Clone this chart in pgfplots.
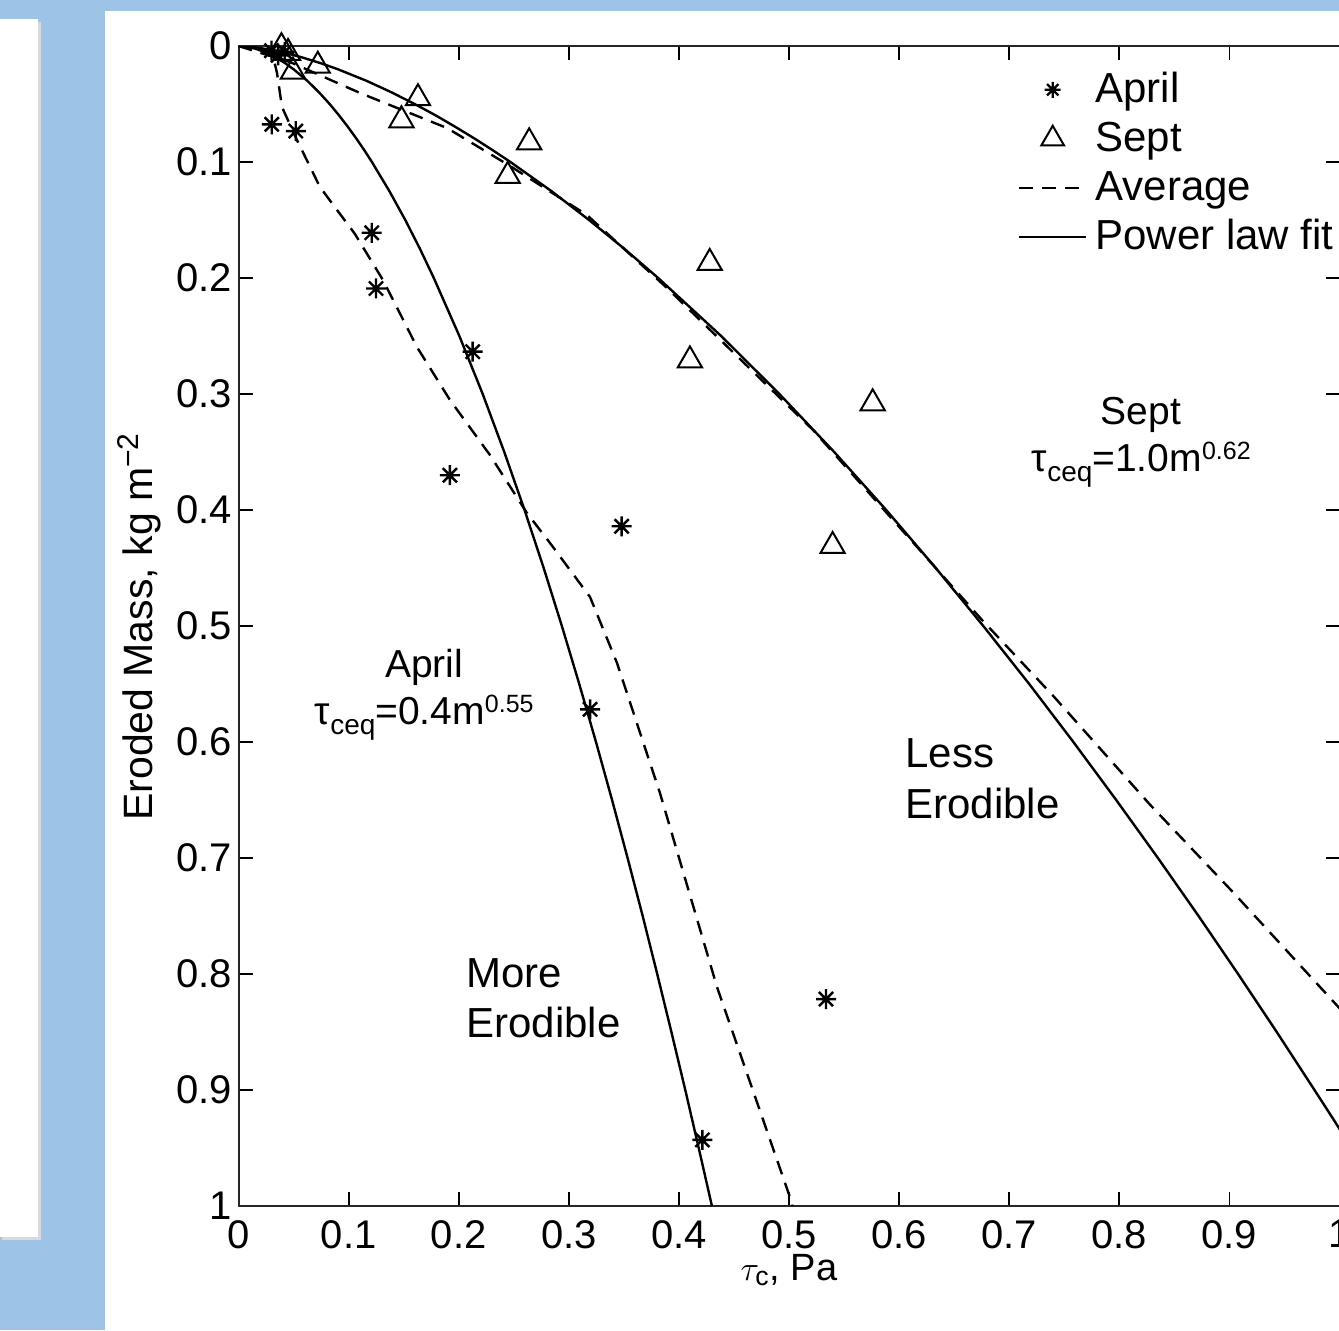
\documentclass[border=0pt]{standalone}
\usepackage{pgfplots}
\pgfplotsset{compat=1.18}
\usepackage{fontspec}
\setmainfont{Liberation Sans}
\definecolor{bgblue}{RGB}{157,195,230}

\pgfdeclareplotmark{matstar}{%
 \pgfpathmoveto{\pgfqpoint{-\pgfplotmarksize}{0pt}}\pgfpathlineto{\pgfqpoint{\pgfplotmarksize}{0pt}}%
 \pgfpathmoveto{\pgfqpoint{0pt}{-\pgfplotmarksize}}\pgfpathlineto{\pgfqpoint{0pt}{\pgfplotmarksize}}%
 \pgfpathmoveto{\pgfqpoint{-0.707\pgfplotmarksize}{-0.707\pgfplotmarksize}}\pgfpathlineto{\pgfqpoint{0.707\pgfplotmarksize}{0.707\pgfplotmarksize}}%
 \pgfpathmoveto{\pgfqpoint{-0.707\pgfplotmarksize}{0.707\pgfplotmarksize}}\pgfpathlineto{\pgfqpoint{0.707\pgfplotmarksize}{-0.707\pgfplotmarksize}}%
 \pgfusepathqstroke}

\pgfplotsset{
 legline/.style={legend image code/.code={\draw[##1] (0pt,0pt) -- (33.5pt,0pt);}},
 legmark/.style={legend image code/.code={\path[draw=none,fill=none] (0pt,-1pt) rectangle (33.5pt,1pt); \path[##1] plot coordinates {(16.75pt,0pt)};}},
}
\newcommand{\lsub}[1]{\raisebox{-5pt}{\fontsize{14}{14}\selectfont #1}}
\newcommand{\lsup}[1]{\raisebox{6pt}{\fontsize{12.5}{12.5}\selectfont #1}}

\pgfplotstableread{
x y
0.030 0.004
0.036 0.008
0.042 0.005
0.0302 0.0675
0.0520 0.0733
0.121 0.161
0.1249 0.209
0.2127 0.2635
0.192 0.370
0.348 0.414
0.3193 0.5718
0.5336 0.8216
0.4213 0.943
}\april
\pgfplotstableread{
x y
0.039 0.001
0.045 0.006
0.0495 0.022
0.072 0.017
0.163 0.045
0.148 0.064
0.264 0.083
0.2445 0.112
0.428 0.187
0.410 0.271
0.576 0.308
0.5396 0.431
}\sept
\pgfplotstableread{
x y
0 0
0.0304 0.0052
0.035 0.0233
0.0395 0.0526
0.0531 0.081
0.0740 0.1216
0.1058 0.1621
0.1312 0.2017
0.1621 0.2595
0.1921 0.3052
0.2284 0.3526
0.2620 0.4026
0.2829 0.4284
0.3193 0.475
0.3438 0.5319
0.3828 0.644
0.4346 0.8112
0.5027 0.9974
0.503 1.0
}\aprilavg
\pgfplotstableread{
x y
0 0
0.0468 0.0138
0.1104 0.0405
0.1894 0.0707
0.2466 0.1034
0.3165 0.1457
0.3892 0.2086
0.5218 0.331
0.6753 0.4948
0.7407 0.561
0.8279 0.654
0.9035 0.7297
0.9944 0.8237
1.02 0.85
}\septavg
\pgfplotstableread{
x y
0 0
0.0096 0.001
0.0141 0.002
0.0176 0.003
0.0233 0.005
0.0292 0.0075
0.0341 0.01
0.0427 0.015
0.0500 0.02
0.0625 0.03
0.0732 0.04
0.0828 0.05
0.0915 0.06
0.0996 0.07
0.1072 0.08
0.1144 0.09
0.1212 0.1
0.1370 0.125
0.1515 0.15
0.1649 0.175
0.1774 0.2
0.2006 0.25
0.2218 0.3
0.2414 0.35
0.2598 0.4
0.2772 0.45
0.2937 0.5
0.3095 0.55
0.3247 0.6
0.3393 0.65
0.3534 0.7
0.3671 0.75
0.3803 0.8
0.3932 0.85
0.4058 0.9
0.4180 0.95
0.4300 1.0
}\aprilfit
\pgfplotstableread{
x y
0 0
0.0138 0.001
0.0213 0.002
0.0275 0.003
0.0379 0.005
0.0488 0.0075
0.0584 0.01
0.0753 0.015
0.0902 0.02
0.1163 0.03
0.1392 0.04
0.1600 0.05
0.1795 0.06
0.1975 0.07
0.2148 0.08
0.2312 0.09
0.2470 0.1
0.2841 0.125
0.3184 0.15
0.3507 0.175
0.3812 0.2
0.4384 0.25
0.4913 0.3
0.5411 0.35
0.5883 0.4
0.6333 0.45
0.6765 0.5
0.7182 0.55
0.7583 0.6
0.7972 0.65
0.8351 0.7
0.8720 0.75
0.9079 0.8
0.9430 0.85
0.9773 0.9
0.9943 0.925
1.0110 0.95
}\septfit

\begin{document}
\begin{tikzpicture}
\begin{scope}[x=0.5pt,y=-0.5pt]
\fill[bgblue] (0,0) rectangle (1339,1330);
\fill[black!15] (2,22) rectangle (41,1240);
\fill[white] (0,19) rectangle (38,1237);
\fill[white] (105,11) rectangle (1339,1330);
\end{scope}
\begin{axis}[
 at={(119.25pt,-23pt)}, anchor=north west,
 width=550.5pt, height=580pt, scale only axis,
 xmin=0, xmax=1, ymin=0, ymax=1, y dir=reverse,
 xtick={0,0.1,0.2,0.3,0.4,0.5,0.6,0.7,0.8,0.9,1},
 xticklabels={0,0.1,0.2,0.3,0.4,0.5,0.6,0.7,0.8,0.9,1},
 ytick={0,0.1,0.2,0.3,0.4,0.5,0.6,0.7,0.8,0.9,1},
 yticklabels={0,0.1,0.2,0.3,0.4,0.5,0.6,0.7,0.8,0.9,1},
 tick label style={font=\fontsize{20}{24}\selectfont},
 yticklabel style={inner sep=0pt, xshift=-3pt},
 xticklabel style={inner sep=0pt, yshift=-7pt},
 major tick length=7pt,
 tick style={black, line width=0.9pt},
 axis line style={black!85, line width=1pt},
 clip marker paths=false,
 legend cell align=left,
 legend style={at={(axis cs:0.708,0.0196)}, anchor=north west, draw=none, fill=none,
   inner sep=0pt, outer sep=0pt, font=\fontsize{21}{25}\selectfont,
   row sep=3.5pt, column sep=4pt,
   nodes={inner sep=0pt, text height=17pt, text depth=4pt}},
]
\addlegendimage{black, mark=matstar, mark size=4pt, line width=1.2pt, legmark}
\addlegendentry{April}
\addlegendimage{black, mark=triangle, mark size=6.5pt, line width=1pt, legmark}
\addlegendentry{Sept}
\addlegendimage{black, line width=1.2pt, dash pattern=on 7pt off 4.5pt, legline}
\addlegendentry{Average}
\addlegendimage{black, line width=1.2pt, legline}
\addlegendentry{Power law fit}

\addplot[black, mark=none, line width=1.2pt, dash pattern=on 7pt off 4.5pt, forget plot] table {\aprilavg};
\addplot[black, mark=none, line width=1.2pt, dash pattern=on 7pt off 4.5pt, forget plot] table {\septavg};
\addplot[black, mark=none, line width=1.2pt, forget plot] table {\aprilfit};
\addplot[black, mark=none, line width=1.2pt, forget plot] table {\septfit};
\addplot[black, only marks, mark=matstar, mark size=5pt, line width=1.2pt, forget plot] table {\april};
\addplot[black, only marks, mark=triangle, mark size=7pt, line width=1pt, forget plot] table {\sept};

\node[anchor=base, inner sep=0pt, font=\fontsize{19.5}{23}\selectfont] at (axis cs:0.8197,0.3267) {Sept};
\node[anchor=base, inner sep=0pt, font=\fontsize{19.5}{23}\selectfont] at (axis cs:0.82,0.3672) {τ\lsub{ceq}=1.0m\lsup{0.62}};
\node[anchor=base, inner sep=0pt, font=\fontsize{19.5}{23}\selectfont] at (axis cs:0.1687,0.5448) {April};
\node[anchor=base, inner sep=0pt, font=\fontsize{19.5}{23}\selectfont] at (axis cs:0.1687,0.5853) {τ\lsub{ceq}=0.4m\lsup{0.55}};
\node[anchor=base west, inner sep=0pt, font=\fontsize{21}{25}\selectfont] at (axis cs:0.6054,0.6216) {Less};
\node[anchor=base west, inner sep=0pt, font=\fontsize{21}{25}\selectfont] at (axis cs:0.6054,0.6655) {Erodible};
\node[anchor=base west, inner sep=0pt, font=\fontsize{21}{25}\selectfont] at (axis cs:0.2066,0.8112) {More};
\node[anchor=base west, inner sep=0pt, font=\fontsize{21}{25}\selectfont] at (axis cs:0.2066,0.8543) {Erodible};
\end{axis}
\begin{scope}[x=0.5pt,y=-0.5pt]
\node[rotate=90, anchor=base, inner sep=0pt, font=\fontsize{20.5}{24}\selectfont] at (152,627) {Eroded Mass, kg m\raisebox{7pt}{\fontsize{15}{15}\selectfont −2}};
\node[anchor=base, inner sep=0pt, font=\fontsize{19}{23}\selectfont] at (789,1280) {$\tau_{\mathrm{c}}$, Pa};
\end{scope}
\pgfresetboundingbox
\path[use as bounding box] (0pt,0pt) rectangle (669.5pt,-665pt);
\end{tikzpicture}
\end{document}
